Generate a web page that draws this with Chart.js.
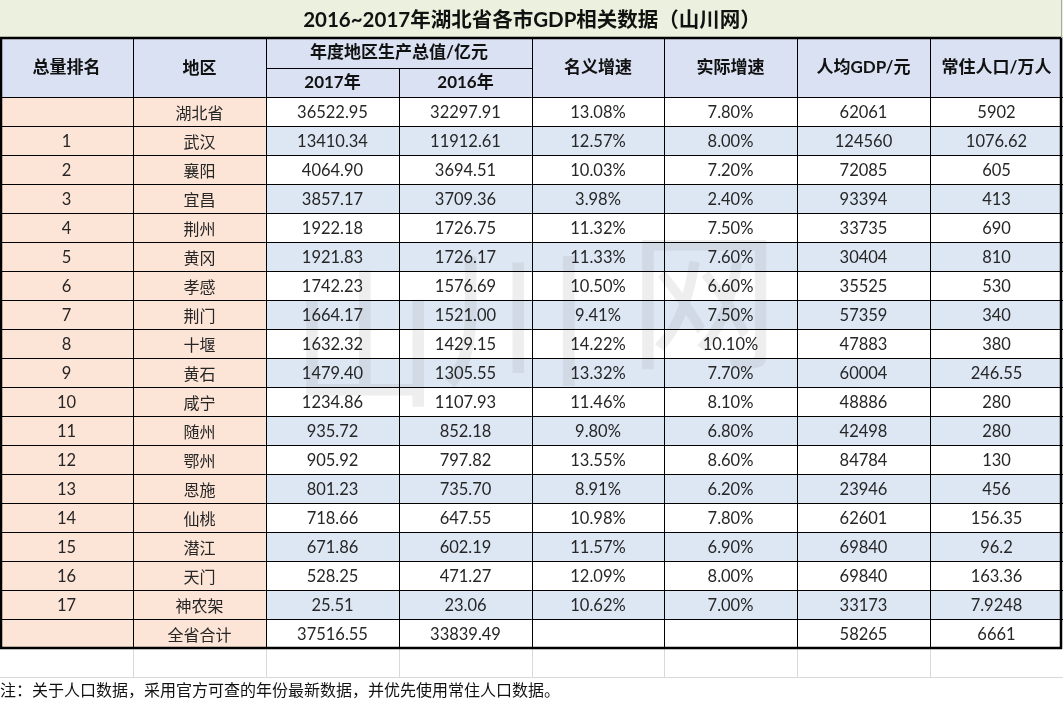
<!DOCTYPE html>
<html>
<head>
<meta charset="utf-8">
<script src="https://cdn.jsdelivr.net/npm/chart.js@4"></script>
<style>
  html, body { margin: 0; padding: 0; background: #fff; }
  #wrap { width: 1063px; height: 706px; position: relative; }
</style>
</head>
<body>
<div id="wrap"><canvas id="tableChart"></canvas></div>
<script>
const title = '2016~2017年湖北省各市GDP相关数据（山川网）';
const headers = ['总量排名', '地区', '年度地区生产总值/亿元', '名义增速', '实际增速', '人均GDP/元', '常住人口/万人'];
const yearHeaders = ['2017年', '2016年'];
const note = '注：关于人口数据，采用官方可查的年份最新数据，并优先使用常住人口数据。';

const ranks = ['', '1', '2', '3', '4', '5', '6', '7', '8', '9', '10', '11', '12', '13', '14', '15', '16', '17', ''];
const regions = ['湖北省', '武汉', '襄阳', '宜昌', '荆州', '黄冈', '孝感', '荆门', '十堰', '黄石',
  '咸宁', '随州', '鄂州', '恩施', '仙桃', '潜江', '天门', '神农架', '全省合计'];
const gdp2017 = [36522.95, 13410.34, 4064.90, 3857.17, 1922.18, 1921.83, 1742.23, 1664.17, 1632.32, 1479.40,
  1234.86, 935.72, 905.92, 801.23, 718.66, 671.86, 528.25, 25.51, 37516.55];
const gdp2016 = [32297.91, 11912.61, 3694.51, 3709.36, 1726.75, 1726.17, 1576.69, 1521.00, 1429.15, 1305.55,
  1107.93, 852.18, 797.82, 735.70, 647.55, 602.19, 471.27, 23.06, 33839.49];
const nominalGrowth = [13.08, 12.57, 10.03, 3.98, 11.32, 11.33, 10.50, 9.41, 14.22, 13.32,
  11.46, 9.80, 13.55, 8.91, 10.98, 11.57, 12.09, 10.62, null];
const realGrowth = [7.80, 8.00, 7.20, 2.40, 7.50, 7.60, 6.60, 7.50, 10.10, 7.70,
  8.10, 6.80, 8.60, 6.20, 7.80, 6.90, 8.00, 7.00, null];
const gdpPerCapita = [62061, 124560, 72085, 93394, 33735, 30404, 35525, 57359, 47883, 60004,
  48886, 42498, 84784, 23946, 62601, 69840, 69840, 33173, 58265];
const population = ['5902', '1076.62', '605', '413', '690', '810', '530', '340', '380', '246.55',
  '280', '280', '130', '456', '156.35', '96.2', '163.36', '7.9248', '6661'];

// layout in scale units: x = column index, y = row index (1 unit = one data row)
const ROW_PX = 29;
const TITLE_H = 38 / ROW_PX;
const HEAD_TOP = TITLE_H;
const HEAD_MID = TITLE_H + 30 / ROW_PX;
const DATA_TOP = HEAD_MID + 1;
const N_COLS = 8;
const Y_MAX = 706 / ROW_PX;

const COLORS = {
  title: '#ebf1de',
  header: '#d9e1f2',
  pink: '#fce4d6',
  stripe: '#dde7f4',
  text: '#262626',
  grid: '#d9d9d9'
};
const NUM_FONT = 'Lato, "Noto Sans CJK SC", sans-serif';
const CJK_FONT = '"Noto Sans CJK SC", Lato, sans-serif';

const fmt2 = v => v == null ? '' : v.toFixed(2);
const pct = v => v == null ? '' : v.toFixed(2) + '%';

function rowCells(i) {
  return [ranks[i], regions[i], fmt2(gdp2017[i]), fmt2(gdp2016[i]), pct(nominalGrowth[i]),
    pct(realGrowth[i]), String(gdpPerCapita[i]), population[i]];
}

const tablePlugin = {
  id: 'tablePlugin',
  afterDraw(chart) {
    const ctx = chart.ctx;
    const xs = chart.scales.x, ys = chart.scales.y;
    const X = c => Math.round(xs.getPixelForValue(c));
    const Y = r => Math.round(ys.getPixelForValue(r));
    const nRows = regions.length;

    ctx.save();
    // title band
    ctx.fillStyle = COLORS.title;
    ctx.fillRect(X(0), Y(0), X(N_COLS) - X(0), Y(HEAD_TOP) - Y(0));
    // header band
    ctx.fillStyle = COLORS.header;
    ctx.fillRect(X(0), Y(HEAD_TOP), X(N_COLS) - X(0), Y(DATA_TOP) - Y(HEAD_TOP));
    // data rows
    for (let i = 0; i < nRows; i++) {
      const y0 = Y(DATA_TOP + i), y1 = Y(DATA_TOP + i + 1);
      ctx.fillStyle = COLORS.pink;
      ctx.fillRect(X(0), y0, X(2) - X(0), y1 - y0);
      ctx.fillStyle = i % 2 === 1 ? COLORS.stripe : '#ffffff';
      ctx.fillRect(X(2), y0, X(N_COLS) - X(2), y1 - y0);
    }

    // watermark
    ctx.fillStyle = 'rgba(120,120,120,0.13)';
    ctx.font = '150px "Noto Sans CJK SC"';
    ctx.textAlign = 'center';
    ctx.textBaseline = 'middle';
    ctx.fillText('山', X(2.75), Y(DATA_TOP + 8.3));
    ctx.fillText('川', X(3.88), Y(DATA_TOP + 7.6));
    ctx.fillText('网', X(5.3), Y(DATA_TOP + 7.0));

    // faint spreadsheet grid below the table
    const tableBottom = Y(DATA_TOP + nRows);
    ctx.strokeStyle = COLORS.grid;
    ctx.lineWidth = 1;
    ctx.beginPath();
    for (let c = 1; c < N_COLS; c++) {
      ctx.moveTo(X(c) + 0.5, tableBottom);
      ctx.lineTo(X(c) + 0.5, Y(DATA_TOP + nRows + 1));
    }
    ctx.moveTo(0, Y(DATA_TOP + nRows + 1) + 0.5);
    ctx.lineTo(X(N_COLS), Y(DATA_TOP + nRows + 1) + 0.5);
    ctx.stroke();

    // inner lines (column 3 edge starts below the merged header cell)
    ctx.strokeStyle = '#000';
    ctx.lineWidth = 1;
    ctx.beginPath();
    for (let c = 1; c < N_COLS; c++) {
      ctx.moveTo(X(c) + 0.5, Y(c === 3 ? HEAD_MID : HEAD_TOP));
      ctx.lineTo(X(c) + 0.5, tableBottom);
    }
    ctx.moveTo(X(2), Y(HEAD_MID) + 0.5);
    ctx.lineTo(X(4), Y(HEAD_MID) + 0.5);
    for (let i = 0; i < nRows; i++) {
      ctx.moveTo(X(0), Y(DATA_TOP + i) + 0.5);
      ctx.lineTo(X(N_COLS), Y(DATA_TOP + i) + 0.5);
    }
    ctx.stroke();

    // thick frame
    ctx.lineWidth = 2.5;
    ctx.strokeRect(X(0) + 1, Y(HEAD_TOP), X(N_COLS) - X(0) - 3, tableBottom - Y(HEAD_TOP));
    ctx.strokeStyle = '#a6a6a6';
    ctx.lineWidth = 1;
    ctx.beginPath();
    ctx.moveTo(X(N_COLS) - 1.5, Y(0));
    ctx.lineTo(X(N_COLS) - 1.5, Y(HEAD_TOP));
    ctx.stroke();

    // title
    ctx.fillStyle = '#111';
    ctx.font = 'bold 20.5px ' + NUM_FONT;
    ctx.fillText(title, X(N_COLS / 2), (Y(0) + Y(HEAD_TOP)) / 2 + 1);

    // headers
    ctx.font = 'bold 17px ' + NUM_FONT;
    const midHead = (Y(HEAD_TOP) + Y(DATA_TOP)) / 2;
    ctx.fillText(headers[0], (X(0) + X(1)) / 2, midHead);
    ctx.fillText(headers[1], (X(1) + X(2)) / 2, midHead + 1);
    ctx.fillText(headers[2], X(3), (Y(HEAD_TOP) + Y(HEAD_MID)) / 2);
    ctx.fillText(yearHeaders[0], (X(2) + X(3)) / 2, (Y(HEAD_MID) + Y(DATA_TOP)) / 2);
    ctx.fillText(yearHeaders[1], (X(3) + X(4)) / 2, (Y(HEAD_MID) + Y(DATA_TOP)) / 2);
    for (let c = 4; c < N_COLS; c++) {
      ctx.fillText(headers[c - 1], (X(c) + X(c + 1)) / 2, midHead);
    }

    // cells
    ctx.fillStyle = COLORS.text;
    for (let i = 0; i < nRows; i++) {
      const cells = rowCells(i);
      const yc = (Y(DATA_TOP + i) + Y(DATA_TOP + i + 1)) / 2 + 1;
      cells.forEach((t, c) => {
        ctx.font = (c === 1 ? '16px ' + CJK_FONT : '16.5px ' + NUM_FONT);
        ctx.fillText(t, (X(c) + X(c + 1)) / 2, yc);
      });
    }

    // note
    ctx.textAlign = 'left';
    ctx.fillStyle = '#111';
    ctx.font = '16px ' + CJK_FONT;
    ctx.fillText(note, X(0), Y(DATA_TOP + nRows + 1.45));
    ctx.restore();
  }
};

new Chart(document.getElementById('tableChart'), {
  type: 'scatter',
  data: { datasets: [{ data: [], pointRadius: 0 }] },
  options: {
    responsive: true,
    maintainAspectRatio: false,
    animation: false,
    layout: { padding: 0 },
    plugins: { legend: { display: false }, tooltip: { enabled: false } },
    scales: {
      x: { type: 'linear', min: 0, max: N_COLS, display: false },
      y: { type: 'linear', min: 0, max: Y_MAX, reverse: true, display: false }
    }
  },
  plugins: [tablePlugin]
});
</script>
</body>
</html>
